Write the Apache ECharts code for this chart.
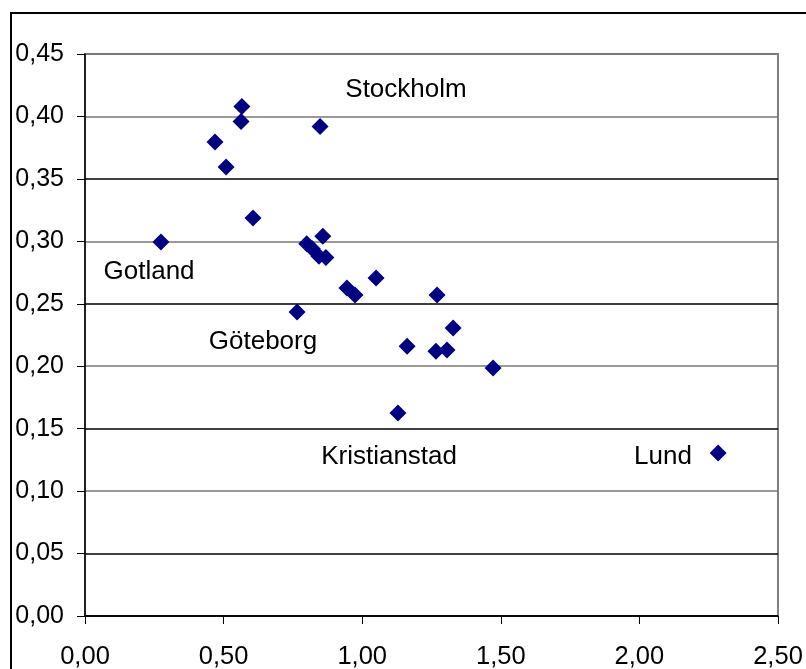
<!DOCTYPE html>
<html>
<head>
<meta charset="utf-8">
<script src="https://cdn.jsdelivr.net/npm/echarts@6/dist/echarts.min.js"></script>
<style>
  html, body { margin: 0; padding: 0; background: #fff; overflow: hidden; }
  #frame { position: absolute; left: 10px; top: 12px; width: 900px; height: 800px; border: 2px solid #000; box-sizing: border-box; }
  #chart { position: absolute; left: 0; top: 0; width: 806px; height: 669px; }
</style>
</head>
<body>
<div id="frame"></div>
<div id="chart"></div>
<script>
// Data points [x, y]
const xValues = [0.274, 0.566, 0.563, 0.469, 0.509, 0.848, 0.606, 0.858, 0.800, 0.820,
                 0.844, 0.869, 0.945, 0.974, 1.050, 1.270, 1.328, 1.162, 1.266, 1.306,
                 1.472, 1.129, 2.284, 0.765];
const yValues = [0.2995, 0.408, 0.396, 0.3795, 0.3595, 0.392, 0.3187, 0.304, 0.298, 0.294,
                 0.288, 0.287, 0.2626, 0.257, 0.2706, 0.257, 0.2306, 0.216, 0.212, 0.213,
                 0.1986, 0.1625, 0.1305, 0.2434];

// Annotation texts and their anchor positions (data coordinates)
const labelNames = ['Stockholm', 'Gotland', 'Göteborg', 'Kristianstad', 'Lund'];
const labelX = [1.158, 0.231, 0.642, 1.097, 2.085];
const labelY = [0.421, 0.2754, 0.2194, 0.1273, 0.1273];

const xTicks = [0, 0.5, 1, 1.5, 2, 2.5];
const yTicks = [0, 0.05, 0.10, 0.15, 0.20, 0.25, 0.30, 0.35, 0.40, 0.45];

const fmt = v => v.toFixed(2).replace('.', ',');
const FONT = '"Liberation Sans", Arial, sans-serif';

const chart = echarts.init(document.getElementById('chart'), null, { renderer: 'canvas' });
chart.setOption({
  animation: false,
  backgroundColor: 'transparent',
  grid: {
    left: 85, right: 28, top: 54, bottom: 53,
    show: true, borderColor: '#808080', borderWidth: 2, backgroundColor: 'transparent',
    outerBoundsMode: 'none'
  },
  xAxis: {
    type: 'value', min: 0, max: 2.5, interval: 0.5,
    axisLine: { show: true, onZero: false, lineStyle: { color: '#000', width: 1.5 } },
    axisTick: { show: true, length: 8, lineStyle: { color: '#000' } },
    axisLabel: { formatter: fmt, fontSize: 25.5, color: '#000', fontFamily: FONT, margin: 28 },
    splitLine: { show: false }
  },
  yAxis: {
    type: 'value', min: 0, max: 0.45, interval: 0.05,
    axisLine: { show: true, onZero: false, lineStyle: { color: '#000', width: 1.5 } },
    axisTick: { show: true, length: 8, lineStyle: { color: '#000' } },
    axisLabel: { formatter: fmt, fontSize: 25, color: '#000', fontFamily: FONT, margin: 21 },
    splitLine: { show: true, lineStyle: { width: 1.5, color: ['#000', '#000', '#777', '#000', '#777', '#000', '#777', '#000', '#777', '#777'] } }
  },
  series: [
    {
      type: 'scatter',
      symbol: 'diamond',
      symbolSize: 17,
      itemStyle: { color: '#000080', opacity: 1 },
      data: xValues.map((x, i) => [x, yValues[i]])
    },
    {
      type: 'scatter',
      symbolSize: 0,
      silent: true,
      itemStyle: { opacity: 1 },
      label: {
        show: true, position: 'inside', formatter: p => p.name,
        fontSize: 26, color: '#000', fontFamily: FONT
      },
      data: labelNames.map((n, i) => ({ name: n, value: [labelX[i], labelY[i]] }))
    }
  ]
});
</script>
</body>
</html>
